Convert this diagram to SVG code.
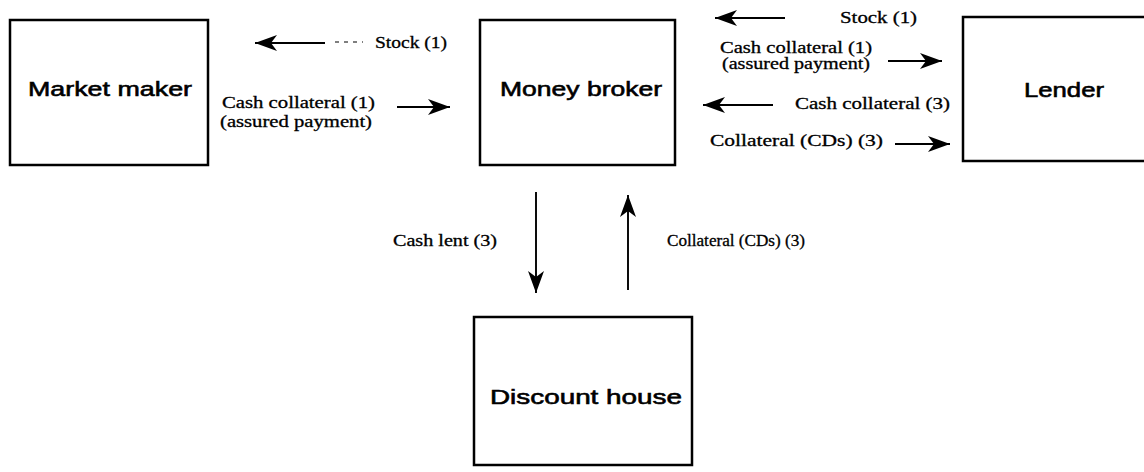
<svg xmlns="http://www.w3.org/2000/svg" width="1144" height="472" viewBox="0 0 1144 472">
<style>
.box{fill:#fff;stroke:#000;stroke-width:2.5}
.nl{font-family:"Liberation Sans",Arial,sans-serif;font-size:21px;fill:#000;stroke:#000;stroke-width:0.6}
.el{font-family:"Liberation Serif","Times New Roman",serif;font-size:16px;fill:#000;stroke:#000;stroke-width:0.3}
.ln{stroke:#000;stroke-width:1.9;fill:none}
</style>
<defs>
<marker id="ah" markerUnits="userSpaceOnUse" markerWidth="26" markerHeight="20" viewBox="-23 -9 26 18" refX="0" refY="0" orient="auto">
<path d="M0,0 L-22,-8 L-16,0 L-22,8 Z" fill="#000"/>
</marker>
</defs>
<rect width="1144" height="472" fill="#fff"/>
<g id="market-maker">
<rect class="box" x="10" y="20" width="198" height="145"/>
<text class="nl" x="28" y="96" textLength="164" lengthAdjust="spacingAndGlyphs">Market maker</text>
</g>
<g id="money-broker">
<rect class="box" x="480" y="20" width="195" height="145"/>
<text class="nl" x="500" y="96" textLength="162" lengthAdjust="spacingAndGlyphs">Money broker</text>
</g>
<g id="lender">
<rect class="box" x="963" y="17" width="200" height="144"/>
<text class="nl" x="1024" y="97" textLength="80" lengthAdjust="spacingAndGlyphs">Lender</text>
</g>
<g id="discount-house">
<rect class="box" x="474" y="317" width="218" height="148"/>
<text class="nl" x="490" y="404" textLength="192" lengthAdjust="spacingAndGlyphs">Discount house</text>
</g>
<g id="connectors">
<line class="ln" x1="325" y1="43" x2="255" y2="43" marker-end="url(#ah)"/>
<line x1="335" y1="42" x2="363" y2="42" stroke="#000" stroke-width="1.2" stroke-dasharray="4 5"/>
<text class="el" x="375" y="48" textLength="72" lengthAdjust="spacingAndGlyphs">Stock (1)</text>
<line class="ln" x1="397" y1="107" x2="450" y2="107" marker-end="url(#ah)"/>
<text class="el" x="222" y="108" textLength="153" lengthAdjust="spacingAndGlyphs">Cash collateral (1)</text>
<text class="el" x="220" y="127" textLength="152" lengthAdjust="spacingAndGlyphs">(assured payment)</text>
<line class="ln" x1="785" y1="18" x2="715" y2="18" marker-end="url(#ah)"/>
<text class="el" x="840" y="23" textLength="77" lengthAdjust="spacingAndGlyphs">Stock (1)</text>
<text class="el" x="720" y="53" textLength="152" lengthAdjust="spacingAndGlyphs">Cash collateral (1)</text>
<text class="el" x="722" y="69" textLength="148" lengthAdjust="spacingAndGlyphs">(assured payment)</text>
<line class="ln" x1="888" y1="61" x2="942" y2="61" marker-end="url(#ah)"/>
<line class="ln" x1="773" y1="105" x2="703" y2="105" marker-end="url(#ah)"/>
<text class="el" x="795" y="109" textLength="155" lengthAdjust="spacingAndGlyphs">Cash collateral (3)</text>
<text class="el" x="710" y="146" textLength="173" lengthAdjust="spacingAndGlyphs">Collateral  (CDs) (3)</text>
<line class="ln" x1="895" y1="144" x2="950" y2="144" marker-end="url(#ah)"/>
<line class="ln" x1="536" y1="192" x2="536" y2="293" marker-end="url(#ah)"/>
<text class="el" x="393" y="246" textLength="104" lengthAdjust="spacingAndGlyphs">Cash lent (3)</text>
<line class="ln" x1="628" y1="290" x2="628" y2="195" marker-end="url(#ah)"/>
<text class="el" x="667" y="246" textLength="138" lengthAdjust="spacingAndGlyphs">Collateral (CDs) (3)</text>
</g>
</svg>
